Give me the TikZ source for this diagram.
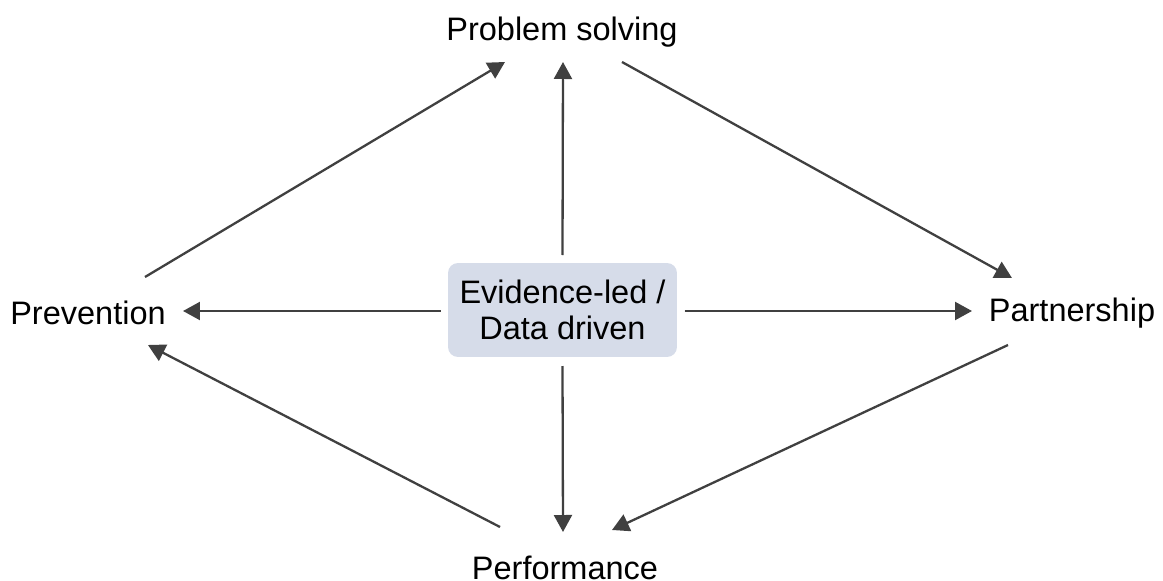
\documentclass[tikz,border=0pt]{standalone}
\usepackage{fontspec}
\setmainfont{Liberation Sans}
\usetikzlibrary{arrows.meta}
\definecolor{arrowgray}{HTML}{404040}
\definecolor{boxblue}{HTML}{D6DCE9}

\begin{document}
\begin{tikzpicture}[
		x=0.02cm, y=-0.02cm,
		label/.style={inner sep=0pt, font=\fontsize{18.5}{20}\selectfont},
		core/.style={fill=boxblue, rounded corners=0.2cm, minimum width=4.58cm, minimum height=1.88cm, align=center, inner sep=0pt, font=\fontsize{18.5}{20.5}\selectfont},
		arrow/.style={-{Triangle[length=0.34cm, width=0.36cm]}, draw=arrowgray, fill=arrowgray, line width=0.046cm}
		]
		\useasboundingbox (0,0) rectangle (1163,581);

		\node[core] (evidence) at (562.5,310) {Evidence-led /\\Data driven};
		\node[label] (problem) at (562,32) {Problem solving};
		\node[label] (prevention) at (88,313) {Prevention};
		\node[label] (partnership) at (1072,313) {Partnership};
		\node[label] (performance) at (565,568) {Performance};

		% Connections
		\draw[arrow] ([shift={(0,-55)}]evidence.center) -- ([shift={(1,30)}]problem.center);
		\draw[arrow] ([shift={(-122,1)}]evidence.center) -- ([shift={(95,-2)}]prevention.center);
		\draw[arrow] ([shift={(122,1)}]evidence.center) -- ([shift={(-100,-2)}]partnership.center);
		\draw[arrow] ([shift={(0,56)}]evidence.center) -- ([shift={(-2,-36)}]performance.center);
		\draw[arrow] ([shift={(57,-36)}]prevention.center) -- ([shift={(-57,30)}]problem.center);
		\draw[arrow] ([shift={(60,30)}]problem.center) -- ([shift={(-60,-35)}]partnership.center);
		\draw[arrow] ([shift={(-64,32)}]partnership.center) -- ([shift={(47,-38)}]performance.center);
		\draw[arrow] ([shift={(-65,-41)}]performance.center) -- ([shift={(60,32)}]prevention.center);

	\end{tikzpicture}
\end{document}
